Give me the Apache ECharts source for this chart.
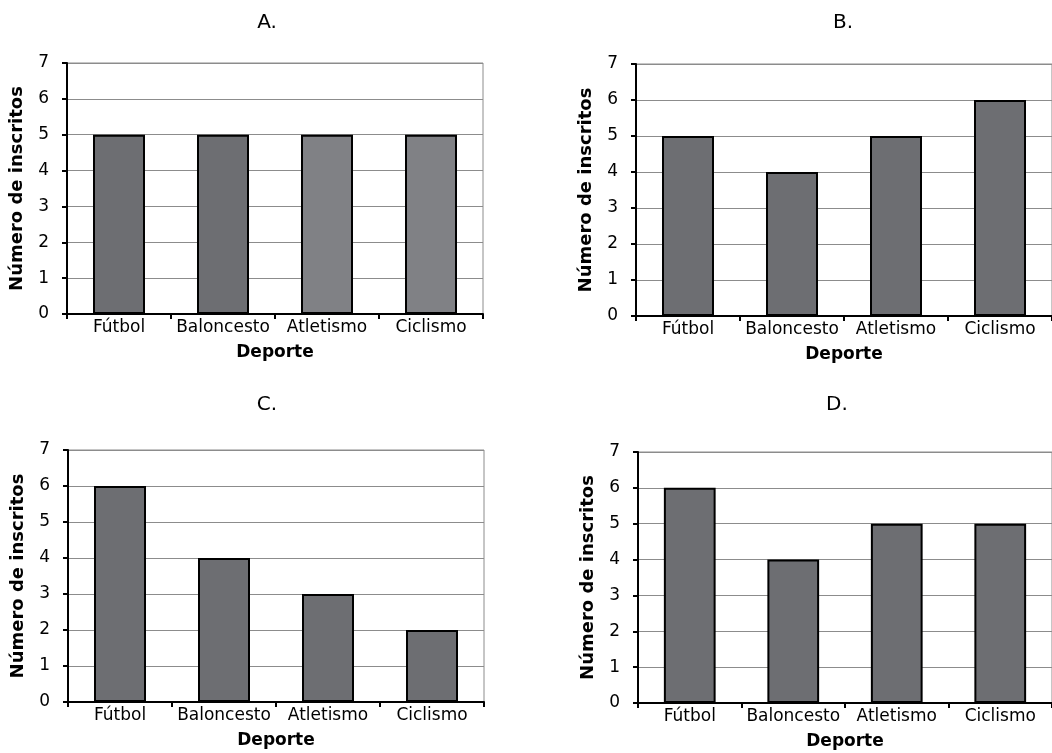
<!DOCTYPE html>
<html>
<head>
<meta charset="utf-8">
<script src="https://cdn.jsdelivr.net/npm/echarts@6/dist/echarts.min.js"></script>
<style>
  html, body { margin: 0; padding: 0; background: #ffffff; }
  #chart { width: 1052px; height: 753px; }
</style>
</head>
<body>
<div id="chart"></div>
<script>
// datos de las cuatro gráficas
const deportes = ['Fútbol', 'Baloncesto', 'Atletismo', 'Ciclismo']
const panelNames = ['A.', 'B.', 'C.', 'D.']
const valoresA = [5, 5, 5, 5]
const valoresB = [5, 4, 5, 6]
const valoresC = [6, 4, 3, 2]
const valoresD = [6, 4, 5, 5]
const yTicks = [0, 1, 2, 3, 4, 5, 6, 7]

const series = [valoresA, valoresB, valoresC, valoresD]

// estilos
const darkBar = '#6d6e72'
const lightBar = '#808185'
const barColors = [
  [darkBar, darkBar, lightBar, lightBar],
  [darkBar, darkBar, darkBar, darkBar],
  [darkBar, darkBar, darkBar, darkBar],
  [darkBar, darkBar, darkBar, darkBar]
]
const font = 'Tahoma, "DejaVu Sans", Verdana, sans-serif'

const grids = [
  { left: 67, top: 63, width: 416, height: 251 },
  { left: 636, top: 64, width: 416, height: 252 },
  { left: 68, top: 450, width: 416, height: 252 },
  { left: 638, top: 452, width: 414, height: 251 }
]
const titlePos = [[262, 8], [838, 8], [262, 390], [832, 390]]

const chart = echarts.init(document.getElementById('chart'))

const option = {
  backgroundColor: '#ffffff',
  animation: false,
  title: panelNames.map((t, i) => ({
    text: t,
    left: titlePos[i][0],
    top: titlePos[i][1],
    textAlign: 'center',
    textStyle: { fontFamily: font, fontSize: 20, fontWeight: 'normal', color: '#000' }
  })),
  grid: grids.map(g => Object.assign({
    show: true,
    borderColor: '#8c8c8c',
    borderWidth: 1,
    backgroundColor: 'transparent'
  }, g)),
  xAxis: grids.map((g, i) => ({
    type: 'category',
    gridIndex: i,
    data: deportes,
    name: 'Deporte',
    nameLocation: 'middle',
    nameGap: 30,
    nameTextStyle: { fontFamily: font, fontSize: 17, fontWeight: 'bold', color: '#000' },
    axisLine: { lineStyle: { color: '#000', width: 2 } },
    axisTick: { show: true, alignWithLabel: false, length: 5, lineStyle: { color: '#000', width: 2 } },
    axisLabel: { fontFamily: font, fontSize: 17, color: '#000', margin: 5, interval: 0 },
    splitLine: { show: false }
  })),
  yAxis: grids.map((g, i) => ({
    type: 'value',
    gridIndex: i,
    min: yTicks[0],
    max: yTicks[yTicks.length - 1],
    interval: 1,
    name: 'Número de inscritos',
    nameLocation: 'middle',
    nameRotate: 90,
    nameGap: 41,
    nameTextStyle: { fontFamily: font, fontSize: 18, fontWeight: 'bold', color: '#000' },
    axisLine: { show: true, lineStyle: { color: '#000', width: 2 } },
    axisTick: { show: true, length: 5, lineStyle: { color: '#000', width: 2 } },
    axisLabel: { fontFamily: font, fontSize: 17, color: '#000', margin: 18 },
    splitLine: { show: true, lineStyle: { color: '#8c8c8c', width: 1 } }
  })),
  series: series.map((vals, i) => ({
    type: 'bar',
    xAxisIndex: i,
    yAxisIndex: i,
    barWidth: '50%',
    data: vals.map((v, j) => ({
      value: v,
      itemStyle: { color: barColors[i][j] }
    })),
    itemStyle: { borderColor: '#000', borderWidth: 2 }
  }))
}

chart.setOption(option)
</script>
</body>
</html>
